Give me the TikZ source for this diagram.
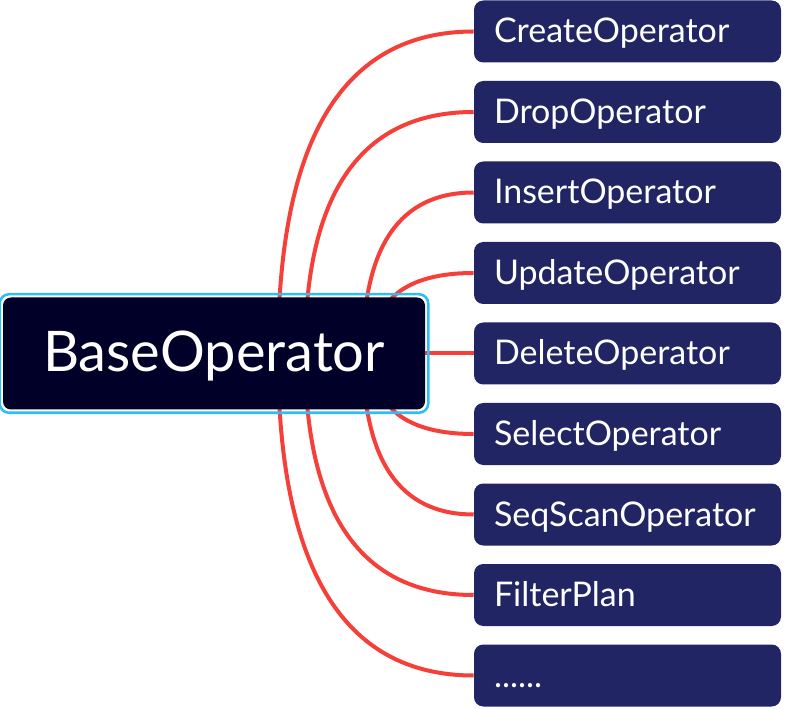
\documentclass[tikz,border=0pt]{standalone}
\usepackage{fontspec}
\setmainfont{Lato}
\usetikzlibrary{calc}
\definecolor{rootfill}{RGB}{0,0,40}
\definecolor{leaffill}{RGB}{33,37,99}
\definecolor{linkred}{RGB}{245,64,58}
\definecolor{selblue}{RGB}{46,189,247}
\newcommand{\moredots}{......}

\begin{document}
\begin{tikzpicture}[x=0.75pt, y=-0.75pt,
  rootbox/.style={fill=rootfill, text=white, rounded corners=6pt, minimum width=316.5pt, minimum height=84pt, text height=27.75pt, text depth=0pt, font=\fontsize{42}{48}\selectfont},
  leaf/.style={fill=leaffill, text=white, rounded corners=7pt, minimum width=230.25pt, minimum height=46.5pt, text width=200.25pt, text height=17.25pt, text depth=0pt, inner xsep=15pt, align=left, font=\fontsize{25.5}{30}\selectfont},
  link/.style={draw=linkred, line width=3pt}]
\useasboundingbox (0,0) rectangle (786,709);
% child topics
\foreach \i/\txt in {1/CreateOperator,2/DropOperator,3/InsertOperator,4/UpdateOperator,5/DeleteOperator,6/SelectOperator,7/SeqScanOperator,8/FilterPlan,9/\moredots}{
  \node[leaf] (c\i) at (627.5,{353.5+80.5*(\i-5)}) {\txt};
}
\coordinate (hub) at (214,353.5);
% curved links, drawn under the central topic
\foreach \i/\xs in {1/278,2/305,3/363,4/372,5/380,6/372,7/363,8/305,9/278}{
  \draw[link] ($(hub)+(\xs-214,0)$) .. controls +(0,{2/3*80.5*(\i-5)}) and +({-2/3*(474-\xs)},0) .. (c\i.west);
}
% central topic
\node[rootbox] (root) at (hub) {BaseOperator};
\draw[selblue, line width=1.9pt, rounded corners=7pt] ($(root.north west)+(-3,-3)$) rectangle ($(root.south east)+(3,3)$);
\end{tikzpicture}
\end{document}
